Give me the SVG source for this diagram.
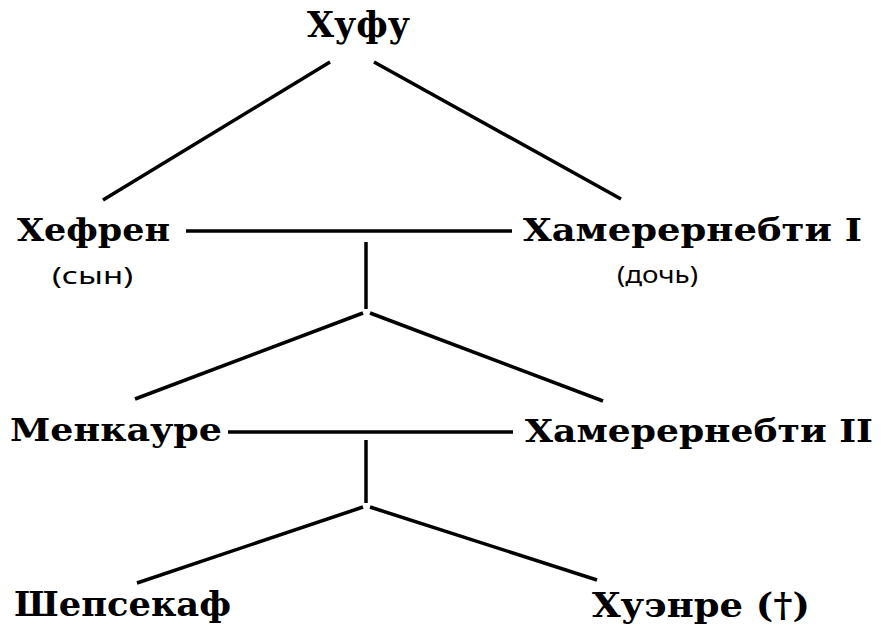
<svg xmlns="http://www.w3.org/2000/svg" width="881" height="630" viewBox="0 0 881 630">
<style>
.n{font-family:"DejaVu Serif","Liberation Serif",serif;font-weight:bold;font-size:32px;fill:#000}
.s{font-family:"Noto Sans","DejaVu Sans",sans-serif;font-size:23px;fill:#000}
.c line{stroke:#000;stroke-width:3.5;stroke-linecap:butt}
</style>
<rect width="881" height="630" fill="#fff"/>
<g class="c" id="connectors">
<line x1="330" y1="62" x2="103" y2="200"/>
<line x1="374" y1="62" x2="621" y2="199"/>
<line x1="186" y1="231" x2="512" y2="231"/>
<line x1="366" y1="242" x2="366" y2="309"/>
<line x1="363" y1="313" x2="135" y2="399"/>
<line x1="370" y1="313" x2="603" y2="401"/>
<line x1="228" y1="432" x2="513" y2="432"/>
<line x1="366" y1="440" x2="366" y2="503"/>
<line x1="363" y1="507" x2="137" y2="583"/>
<line x1="370" y1="507" x2="597" y2="580"/>
</g>
<g id="khufu"><text class="n" x="307" y="37" style="font-size:35px" textLength="103" lengthAdjust="spacingAndGlyphs">Хуфу</text></g>
<g id="khafre"><text class="n" x="17" y="241" textLength="153" lengthAdjust="spacingAndGlyphs">Хефрен</text>
<text class="s" x="52" y="284" textLength="81" lengthAdjust="spacingAndGlyphs">(сын)</text></g>
<g id="khamerernebty1"><text class="n" x="523" y="241" textLength="339" lengthAdjust="spacingAndGlyphs">Хамерернебти I</text>
<text class="s" x="617" y="283" textLength="81" lengthAdjust="spacingAndGlyphs">(дочь)</text></g>
<g id="menkaure"><text class="n" x="10" y="441" textLength="212" lengthAdjust="spacingAndGlyphs">Менкауре</text></g>
<g id="khamerernebty2"><text class="n" x="525" y="442" textLength="348" lengthAdjust="spacingAndGlyphs">Хамерернебти II</text></g>
<g id="shepseskaf"><text class="n" x="14" y="616" style="font-size:33px" textLength="217" lengthAdjust="spacingAndGlyphs">Шепсекаф</text></g>
<g id="khuenre"><text class="n" x="592" y="617" style="font-size:33px" textLength="218" lengthAdjust="spacingAndGlyphs">Хуэнре (†)</text></g>
</svg>
